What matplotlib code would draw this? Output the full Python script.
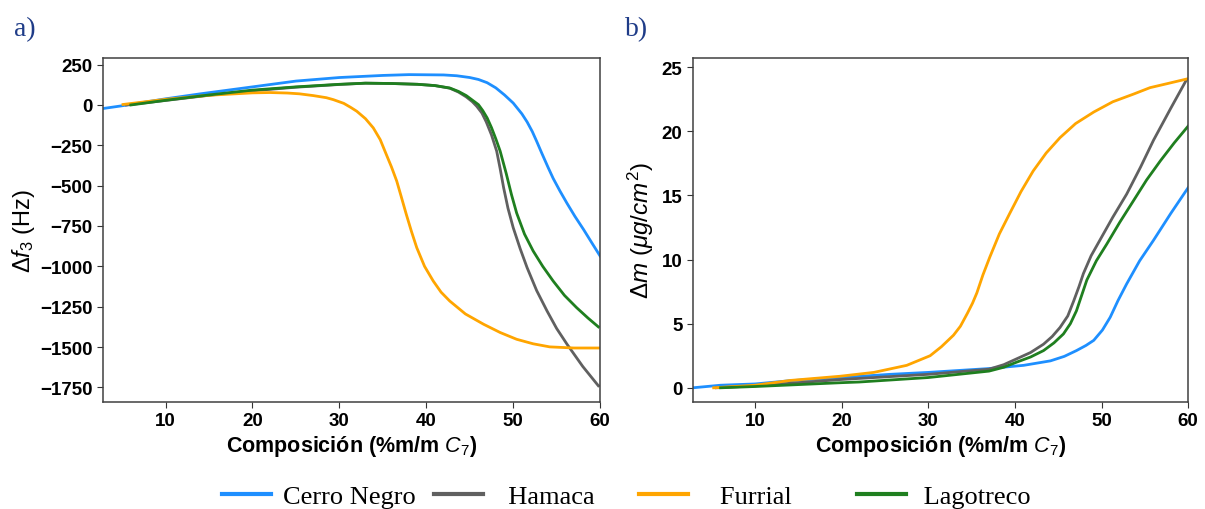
import matplotlib.pyplot as plt
from matplotlib.lines import Line2D

# --------------------------
# Data
# --------------------------
# a) frequency shift (Hz) vs composition (%m/m C7)
cn_x_a = [2.8, 5, 10, 14, 20, 25, 30, 35, 38, 42, 43.5, 45, 46, 47, 48, 49, 50, 51, 51.6, 52.2, 52.7,
          53.3, 54, 54.6, 55.4, 56.2, 57.1, 58.1, 59, 60]
cn_y_a = [-22, -5, 38, 69, 112, 148, 170, 183, 188, 186, 181, 170, 158, 138, 106, 62, 12, -55, -105, -165, -225,
          -300, -385, -455, -535, -610, -690, -772, -850, -936]

ha_x_a = [5.5, 10, 15, 20, 25, 30, 33, 36, 39, 41, 42.7, 43.7, 44.6, 45.3, 45.8, 46.4, 46.9, 47.5, 48.1,
          48.5, 48.9, 49.4, 50, 50.8, 51.6, 52.7, 53.9, 55, 56.2, 58, 59.8]
ha_y_a = [0, 28, 60, 88, 110, 127, 135, 133, 128, 120, 104, 80, 50, 20, -8, -50, -105, -185, -286,
          -395, -513, -640, -760, -890, -1008, -1150, -1277, -1385, -1483, -1620, -1740]

fu_x_a = [5.1, 10, 15, 20, 22, 24, 25.4, 27, 28.5, 29.3, 30.5, 31.3, 32, 33, 33.9, 34.7, 35.4, 36, 36.6,
          37.1, 37.7, 38.3, 38.9, 39.8, 40.8, 41.7, 42.7, 44.5, 46.6, 48.5, 50.4, 52.3, 54.2, 57, 60]
fu_y_a = [3, 35, 60, 75, 77, 74, 69, 58, 45, 33, 10, -15, -39, -85, -142, -215, -307, -385, -472,
          -565, -678, -785, -884, -1000, -1091, -1160, -1215, -1295, -1359, -1410, -1452, -1480, -1499, -1506, -1506]

la_x_a = [6, 10, 15, 20, 25, 30, 33, 36, 39, 41, 42.7, 43.7, 44.6, 45.3, 46, 46.5, 47, 47.5, 48, 48.5,
          49.2, 49.8, 50.4, 51.3, 52.3, 53.4, 54.6, 55.9, 57.3, 58.6, 59.8]
la_y_a = [0, 29, 62, 92, 112, 128, 135, 133, 128, 120, 105, 84, 58, 30, 2, -35, -80, -140, -210, -286,
          -425, -555, -670, -800, -905, -1000, -1091, -1180, -1256, -1320, -1375]

# b) deposited mass (ug/cm2) vs composition
cn_x_b = [2.8, 6, 10, 14, 20, 25.6, 30, 37, 41, 44.1, 45.7, 47.1, 48.2, 49.1, 50.1, 51.0, 51.9, 52.9,
          54.4, 56, 58, 60]
cn_y_b = [0.0, 0.2, 0.3, 0.55, 0.8, 1.05, 1.2, 1.5, 1.75, 2.1, 2.45, 2.9, 3.3, 3.7, 4.5, 5.5, 6.8, 8.1,
          9.9, 11.5, 13.6, 15.6]

ha_x_b = [5.5, 10, 20, 30, 37, 38.7, 40.2, 41.8, 43.3, 44.3, 45.2, 46.1, 46.8, 47.4, 47.9, 48.8, 49.8,
          51.3, 52.9, 54.5, 56.0, 58, 59.8]
ha_y_b = [0.0, 0.15, 0.65, 1.05, 1.45, 1.8, 2.26, 2.75, 3.4, 4.0, 4.7, 5.6, 6.8, 7.9, 8.9, 10.3, 11.5,
          13.3, 15.1, 17.2, 19.3, 21.8, 24.0]

fu_x_b = [5.2, 10, 14, 19.8, 23.7, 27.5, 30.2, 31.5, 32.9, 33.7, 34.5, 35.1, 35.6, 36.3, 37.1, 38.2,
          39.4, 40.7, 42.1, 43.6, 45.2, 47, 49.1, 51.3, 53.7, 55.6, 57.5, 60]
fu_y_b = [0.0, 0.2, 0.57, 0.9, 1.2, 1.75, 2.5, 3.2, 4.1, 4.8, 5.8, 6.6, 7.4, 8.8, 10.2, 12.0,
          13.6, 15.3, 16.9, 18.3, 19.5, 20.6, 21.5, 22.3, 22.9, 23.4, 23.7, 24.1]

la_x_b = [6, 10, 20, 22, 30, 37, 38.7, 40.2, 41.8, 43.3, 44.5, 45.6, 46.4, 47.1, 47.7, 48.3, 49.4,
          50.6, 52.1, 53.7, 55.2, 56.8, 58.4, 60]
la_y_b = [0.0, 0.1, 0.4, 0.45, 0.8, 1.3, 1.6, 2.0, 2.4, 2.9, 3.5, 4.2, 5.0, 6.0, 7.2, 8.4, 9.9,
          11.2, 12.9, 14.6, 16.2, 17.7, 19.1, 20.4]

names = ["Cerro Negro", "  Hamaca    ", "   Furrial       ", " Lagotreco"]
colors = ["#1e8fff", "#606060", "#ffa500", "#1f7f1f"]

# --------------------------
# Style
# --------------------------
plt.rcParams['font.family'] = 'Liberation Sans'
plt.rcParams['mathtext.fontset'] = 'custom'
plt.rcParams['mathtext.rm'] = 'Liberation Sans'
plt.rcParams['mathtext.it'] = 'Liberation Sans:italic'
plt.rcParams['mathtext.bf'] = 'Liberation Sans:bold'

fig = plt.figure(figsize=(12.05, 5.1), dpi=100)
ax1 = fig.add_axes([0.0855, 0.21, 0.4125, 0.674])
ax2 = fig.add_axes([0.575, 0.21, 0.411, 0.674])

series_a = [(cn_x_a, cn_y_a), (ha_x_a, ha_y_a), (fu_x_a, fu_y_a), (la_x_a, la_y_a)]
series_b = [(cn_x_b, cn_y_b), (ha_x_b, ha_y_b), (fu_x_b, fu_y_b), (la_x_b, la_y_b)]

for (x, y), c in zip(series_a, colors):
    ax1.plot(x, y, color=c, lw=2)
for (x, y), c in zip(series_b, colors):
    ax2.plot(x, y, color=c, lw=2)

ax1.set_xlim(2.8, 60)
ax1.set_ylim(-1840, 290)
ax1.set_yticks([250, 0, -250, -500, -750, -1000, -1250, -1500, -1750])
ax1.set_ylabel(r'$\Delta f_3$ (Hz)', fontsize=17, labelpad=2)

ax2.set_xlim(2.8, 60)
ax2.set_ylim(-1.1, 25.7)
ax2.set_yticks([0, 5, 10, 15, 20, 25])
ax2.set_ylabel(r'$\Delta m\ \mathit{(\mu g/cm^2)}$', fontsize=17.5, labelpad=4)

for ax in (ax1, ax2):
    ax.set_xticks([10, 20, 30, 40, 50, 60])
    ax.set_xlabel(r'Composición (%m/m $C_7$)', fontsize=15.5, fontweight='bold', labelpad=3)
    ax.tick_params(labelsize=13.5, length=4, color='#333333')
    for lab in ax.get_xticklabels() + ax.get_yticklabels():
        lab.set_fontweight('bold')
    for s in ax.spines.values():
        s.set_color('#404040')
        s.set_linewidth(1.1)

fig.text(0.012, 0.93, 'a)', family='Liberation Serif', fontsize=20, color='#1f3c88')
fig.text(0.519, 0.93, 'b)', family='Liberation Serif', fontsize=20, color='#1f3c88')

handles = [Line2D([], [], color=c, lw=3) for c in colors]
fig.legend(handles, names, loc='lower center', bbox_to_anchor=(0.52, -0.045), ncol=4,
           frameon=False, prop={'family': 'Liberation Serif', 'size': 19},
           handlelength=1.85, columnspacing=0.7, handletextpad=0.45)

plt.savefig('out.png', dpi=100)
